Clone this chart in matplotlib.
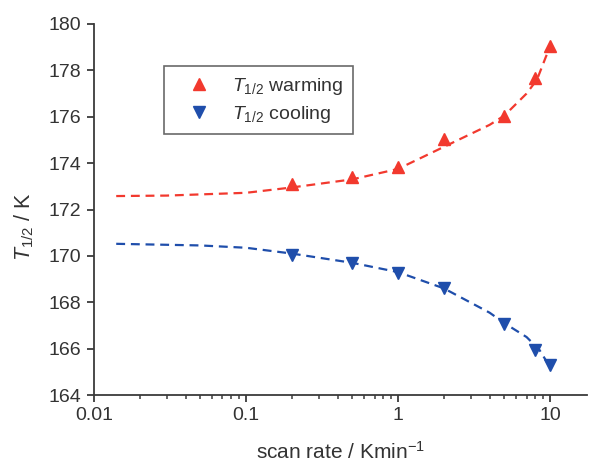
import matplotlib
matplotlib.use("Agg")
import matplotlib.pyplot as plt
from matplotlib.ticker import LogLocator, FixedLocator, NullFormatter

plt.rcParams['font.family'] = ['Liberation Sans', 'DejaVu Sans']
plt.rcParams['mathtext.fontset'] = 'custom'
plt.rcParams['mathtext.it'] = 'Liberation Sans:italic'
plt.rcParams['mathtext.rm'] = 'Liberation Sans'

# measured points
scan_rate = [0.2, 0.5, 1, 2, 5, 8, 10]
t_warming = [173.1, 173.4, 173.85, 175.05, 176.05, 177.65, 179.05]
t_cooling = [170.05, 169.7, 169.25, 168.6, 167.05, 165.95, 165.3]

# fitted curves
warm_fit_x = [0.014, 0.03, 0.1, 0.2, 0.5, 1, 2, 4, 5, 7, 8.2, 9.4, 10]
warm_fit_y = [172.58, 172.6, 172.72, 172.95, 173.3, 173.75, 174.7, 175.65, 176.05, 177.0, 177.6, 178.6, 179.0]
cool_fit_x = [0.014, 0.05, 0.1, 0.2, 0.5, 1, 2, 4, 5, 7, 8.5, 10]
cool_fit_y = [170.52, 170.45, 170.35, 170.1, 169.7, 169.3, 168.6, 167.55, 167.1, 166.5, 165.95, 165.2]

y_ticks = [164, 166, 168, 170, 172, 174, 176, 178, 180]
x_ticks = [0.01, 0.1, 1, 10]
x_tick_labels = ['0.01', '0.1', '1', '10']

red = '#f2392e'
blue = '#1f4eab'
axis_col = '#3a3a3a'
text_col = '#333333'

fig = plt.figure(figsize=(5.90, 4.68), dpi=100)
ax = fig.add_axes([94/590, 1-395/468, 0.995-94/590, (395-24)/468])

ax.plot(warm_fit_x, warm_fit_y, ls=(0, (4, 2.6)), color=red, lw=1.6, zorder=2)
ax.plot(cool_fit_x, cool_fit_y, ls=(0, (4, 2.6)), color=blue, lw=1.6, zorder=2)
ax.plot(scan_rate, t_warming, ls='none', marker='^', ms=9, color=red,
        mec=red, label=r'$T_{\mathregular{1/2}}$ warming', zorder=3)
ax.plot(scan_rate, t_cooling, ls='none', marker='v', ms=9, color=blue,
        mec=blue, label=r'$T_{\mathregular{1/2}}$ cooling', zorder=3)

ax.set_xscale('log')
ax.set_xlim(0.01, 17.5)
ax.set_ylim(164, 180)
ax.xaxis.set_major_locator(FixedLocator(x_ticks))
ax.set_xticklabels(x_tick_labels)
ax.xaxis.set_minor_locator(LogLocator(base=10, subs=range(2, 10)))
ax.xaxis.set_minor_formatter(NullFormatter())
ax.set_yticks(y_ticks)

for s in ['top', 'right']:
    ax.spines[s].set_visible(False)
for s in ['left', 'bottom']:
    ax.spines[s].set_color(axis_col)
    ax.spines[s].set_linewidth(1.3)
ax.tick_params(which='major', direction='out', length=5, width=1.3, color=axis_col,
               labelsize=14, labelcolor=text_col, pad=4)
ax.tick_params(which='minor', direction='out', length=3, width=1.1, color=axis_col)

ax.set_xlabel(r'scan rate / Kmin$^{\mathregular{-1}}$', fontsize=15, color=text_col, labelpad=12)
ax.set_ylabel(r'$T_{\mathregular{1/2}}$ / K', fontsize=15.5, color=text_col)
ax.yaxis.set_label_coords(-0.117, 0.455)

leg = ax.legend(loc='upper left', bbox_to_anchor=(164/590, 1-66/468),
                bbox_transform=fig.transFigure, fontsize=14, frameon=True,
                fancybox=False, handletextpad=0.4, handlelength=2.6,
                borderpad=0.5, labelspacing=0.35, borderaxespad=0)
leg.get_frame().set_edgecolor('#444444')
leg.get_frame().set_linewidth(1.2)
for t in leg.get_texts():
    t.set_color(text_col)

fig.savefig('out.png', dpi=100)
